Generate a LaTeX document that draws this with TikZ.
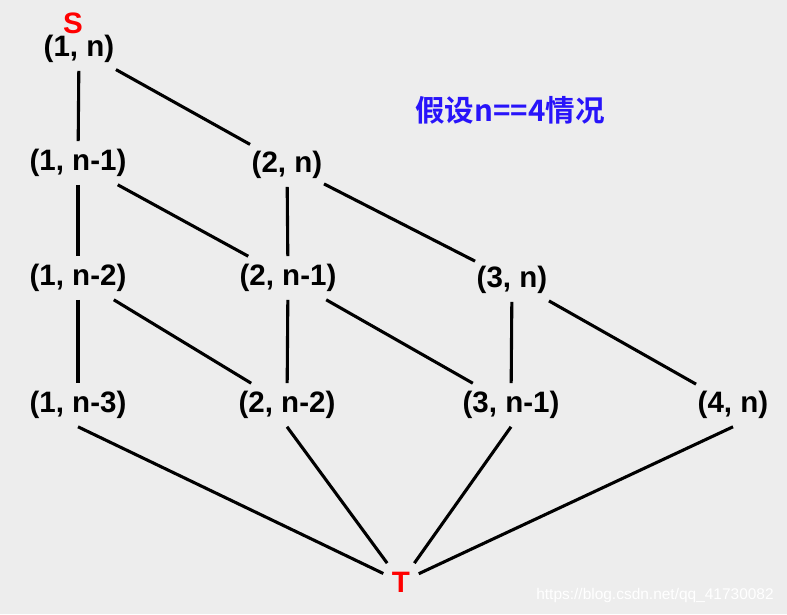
\documentclass[tikz,border=0pt]{standalone}
\usepackage{fontspec}
\setmainfont{Liberation Sans}
\newfontfamily\cjkfont{Noto Sans CJK SC}[BoldFont={Noto Sans CJK SC Bold}]
\definecolor{bggray}{RGB}{237,237,237}
\definecolor{noteblue}{RGB}{40,20,250}
\definecolor{endred}{RGB}{255,0,0}
\begin{document}
\begin{tikzpicture}[x=0.025cm, y=-0.025cm,
  state/.style={font=\fontsize{21}{24}\selectfont\bfseries, inner xsep=1pt, inner ysep=5.5pt},
  endpt/.style={font=\fontsize{21}{24}\selectfont\bfseries, text=endred, inner sep=6pt},
  link/.style={line width=2.2pt}]
\fill[bggray] (0,0) rectangle (787,614);
\useasboundingbox (0,0) rectangle (787,614);
% start and end
\node[endpt] (S) at (73,23) {S};
\node[endpt] (T) at (401,582) {T};
% states (i, j)
\node[state] (a1) at (79,49) {(1, n)};
\node[state] (b1) at (78,163) {(1, n-1)};
\node[state] (b2) at (287,165) {(2, n)};
\node[state] (c1) at (78,278) {(1, n-2)};
\node[state] (c2) at (288,278) {(2, n-1)};
\node[state] (c3) at (512,280) {(3, n)};
\node[state] (d1) at (78,405) {(1, n-3)};
\node[state] (d2) at (287,405) {(2, n-2)};
\node[state] (d3) at (511,405) {(3, n-1)};
\node[state] (d4) at (733,405) {(4, n)};
\node[font=\cjkfont\fontsize{21}{24}\selectfont\bfseries, text=noteblue] (note) at (510,110) {假设n==4情况};
\node[font=\fontsize{11}{13}\selectfont, text=white] (mark) at (655,595) {https://blog.csdn.net/qq\_41730082};
% links
\draw[link] (a1) -- (b1);
\draw[link] (a1) -- (b2);
\draw[link] (b1) -- (c1);
\draw[link] (b1) -- (c2);
\draw[link] (b2) -- (c2);
\draw[link] (b2) -- (c3);
\draw[link] (c1) -- (d1);
\draw[link] (c1) -- (d2);
\draw[link] (c2) -- (d2);
\draw[link] (c2) -- (d3);
\draw[link] (c3) -- (d3);
\draw[link] (c3) -- (d4);
\draw[link] (d1.south) -- (T);
\draw[link] (d2.south) -- (T);
\draw[link] (d3.south) -- (T);
\draw[link] (d4.south) -- (T);
\end{tikzpicture}
\end{document}
